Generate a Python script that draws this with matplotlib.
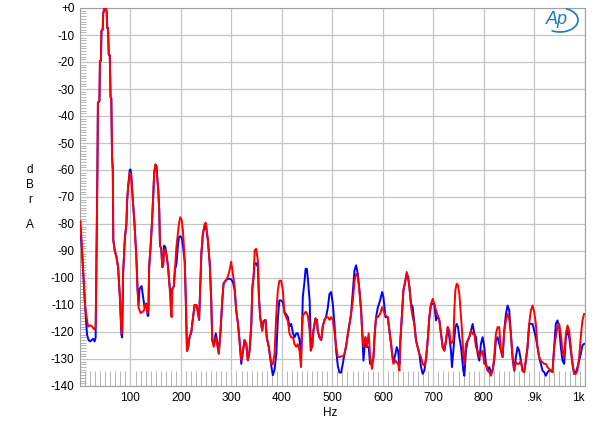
import matplotlib
matplotlib.use("Agg")
import matplotlib.pyplot as plt
from matplotlib.patches import Arc
from matplotlib.ticker import MultipleLocator

plt.rcParams['font.family'] = ['Liberation Sans', 'DejaVu Sans']

# red trace (Hz, dBr)
red_hz = [1, 3, 6, 10, 13, 16, 20, 24, 28, 31,
          32.5, 34.5, 35.5, 38.5, 39.5, 41.5, 42.5, 45, 46, 48.5, 51.5, 53, 54, 55.5, 57, 59, 60.5, 62, 63.5, 65,
          66, 69, 72, 75.5, 79, 82, 83.5, 85.5, 89, 92, 93.5, 95.5, 98.5, 101, 103, 105, 108, 111.5, 114, 116,
          120, 124, 127, 129.5, 132, 134, 135.5, 137, 140, 142.5, 145, 147, 149.5, 151.5, 153.5, 155, 157, 158.5,
          161, 163, 165, 166.5, 169, 171.5, 174.5, 177.5, 180, 181.5, 183, 186, 188, 191, 194, 196, 198.5, 201.5,
          204, 207.5, 209.5, 212, 214, 217, 220.5, 224, 227, 230.5, 234, 236, 238.5, 240.5, 243.5, 247, 249, 250.5,
          253.5, 257, 260, 262, 265, 269, 271.5, 275, 278.5, 282, 284.5, 288.5, 293, 296.5, 299.5, 303, 306.5,
          309.5, 313, 316, 319.5, 323, 326, 329.5, 332.5, 336, 339.5, 341.5, 344, 346, 349, 352.5, 354.5, 357,
          361, 363.5, 367.5, 370, 374, 379, 382, 385.5, 389, 392, 395, 398.5, 402, 405, 408.5, 412, 415, 418.5,
          422, 425, 428.5, 431.5, 435, 438, 440, 441.5, 445, 447, 449.5, 451.5, 455, 457, 460, 462.5, 466.5,
          469.5, 471, 474.5, 478, 481, 484.5, 487.5, 491, 494.5, 497.5, 501, 504, 507.5, 511, 514, 517.5, 520.5,
          524, 527.5, 530.5, 534, 537, 540.5, 544, 547, 550.5, 553.5, 557, 559, 561.5, 565.5, 568, 572, 575,
          578.5, 581.5, 584, 586.5, 590, 594.6, 598.6, 601.2, 605.2, 609.8, 613, 616.4, 618.4, 621, 625, 627.6,
          630.2, 632.9, 634.8, 638.1, 640.8, 644.7, 647.4, 650, 652.7, 656, 659.2, 662.5, 665.8, 669.1, 672.4,
          675.7, 679, 682.3, 685.6, 688.9, 692.2, 695.5, 698.8, 702, 705.4, 708.7, 712, 715.3, 718.6, 721.9,
          725.2, 728.5, 731.8, 735, 739.7, 741.7, 743.7, 746.3, 749, 751.6, 754.9, 756.9, 759.5, 761.5, 764.8,
          768, 771.4, 774.7, 778, 781.3, 784.5, 787.8, 791.1, 794.4, 797.7, 801, 804.3, 807.6, 810.9, 814.2,
          817.5, 820.8, 824, 827.4, 830.7, 834, 837.3, 840.6, 843.9, 847.2, 850.5, 853.7, 857, 860.3, 863.6,
          867, 870.2, 873.5, 876.8, 880, 883.4, 886.7, 890, 893.3, 896.6, 900, 903.2, 906.5, 909.8, 913, 916.4,
          919.7, 923, 926.3, 929.6, 932.9, 936.2, 939.5, 942.8, 946, 949.4, 952.7, 956, 959.3, 962.6, 965.9,
          969.2, 972.5, 975.8, 979, 982.4, 985.7, 989, 992.2, 995.5, 998.8]
red_db = [-79, -86, -97, -110, -114.5, -118, -117.5, -118, -119, -118,
          -95, -60, -35, -34.5, -19.6, -19.5, -8.5, -8, -2, 0, 0, -2, -7.5, -7.5, -17.3, -17.5, -33, -33.5, -55, -60,
          -86, -90, -92, -96, -107, -119.5, -120.5, -98, -85, -80, -71, -66, -61, -61.5, -66.5, -72, -80, -92, -104, -111,
          -113, -112.5, -112, -109.5, -110, -113, -112, -96, -88, -80, -70, -61, -58, -58.5, -64, -67, -75, -88,
          -89, -96, -95, -89.5, -89.5, -91.5, -96, -103, -112, -114.5, -104, -103, -97, -88.5, -83.5, -80, -77.5, -78.5,
          -82.5, -93.5, -107, -127, -126, -122, -120, -114.5, -110, -110, -113, -115.5, -102, -91, -83.5, -80, -79.5, -81,
          -86, -94.5, -108, -123, -125.5, -122, -124.5, -128, -119.5, -108, -102, -101, -99.5, -97, -94, -98.5, -103.5,
          -112, -117, -123, -130.5, -127, -123, -124.5, -130.5, -127, -117, -103.5, -99.5, -89.8, -89.2, -93.5, -107, -114.5,
          -119.5, -116, -115.5, -122, -125.5, -131.8, -132, -128, -113, -104.5, -101, -101, -104.5, -113, -114.5, -116, -120.5, -122,
          -122, -124.5, -125.5, -124.5, -127, -133, -120, -114, -113, -112.5, -113, -114, -119.5, -127, -125.5, -119.5, -115,
          -115.5, -119.5, -122, -123, -118, -115.5, -114.5, -114.5, -115.5, -114.5, -115.5, -119.5, -125.5, -129.3, -129.3, -129, -129,
          -128.3, -125, -121, -117, -113.5, -108.5, -101, -98.5, -99.5, -104.5, -112, -119.5, -125.5, -122, -125.5, -120.5, -129.3,
          -133.7, -129.5, -120.5, -114.5, -114.5, -113.3, -110.8, -112, -113.9, -114.5, -119.5, -124.4, -128.1, -131.8, -130.6, -131.2,
          -131.8, -134.3, -123.2, -113.3, -104.6, -100.9, -97.8, -99.7, -103.4, -110.8, -114.5, -117, -123.2, -125.6, -128.1,
          -129.3, -131.8, -132.5, -130, -123.2, -114.5, -109.6, -107.7, -109.6, -112, -113.9, -115.7, -120.7, -125.6, -126.9,
          -123.2, -118.2, -119.5, -124.4, -123.2, -112, -104.6, -102.1, -102.7, -105.9, -114.5, -119.5, -128.1, -131.8, -124.4,
          -123.2, -121.9, -119.5, -120.7, -120.7, -125.6, -126.9, -129.3, -128.1, -126.9, -131.8, -131.8, -134.3, -134.9, -136.2,
          -134.3, -129.3, -120.7, -118.2, -118.2, -126.9, -129.3, -119.5, -115.7, -113.3, -115.1, -120.7, -129.3, -134.3, -131.2,
          -131.8, -131.8, -130.6, -134.3, -134.9, -130.6, -125.6, -117, -112, -110.2, -112.7, -117, -125.6, -129.3, -130.6, -131.2,
          -131.8, -131.8, -133, -133.7, -134.3, -134.9, -125.6, -121.9, -118.2, -117, -120.7, -126.9, -129.3, -120.7, -117.6,
          -119.5, -125.6, -131.8, -135.5, -135.5, -134.3, -129.3, -121.9, -115.7, -113.3]

# blue trace (Hz, dBr)
blue_hz = [1, 3, 6, 10, 12, 14, 17, 20, 23, 26, 29, 31,
           32.5, 34.5, 35.5, 38.5, 39.5, 41.5, 42.5, 45, 46, 48.5, 51.5, 53, 54, 55.5, 57, 59, 60.5, 62, 63.5, 65,
           66, 69, 72, 75.5, 79, 82, 83.5, 85.5, 89, 92, 93.5, 95.5, 98.5, 100, 101.5, 103, 105, 108, 111.5, 114,
           116, 118, 122, 125, 128, 131.5, 134, 135.5, 137, 140, 142.5, 145, 147, 149.5, 151.5, 153.5, 155, 157,
           158.5, 161, 163, 165, 166.5, 169, 171.5, 174.5, 177.5, 180, 181.5, 183, 186, 188, 191, 194, 196, 198.5,
           201.5, 204, 207.5, 209.5, 212, 214, 217, 220.5, 224, 227, 230.5, 234, 236, 238.5, 240.5, 243.5, 247, 249,
           250.5, 253.5, 257, 260, 262, 265, 269, 271.5, 275, 278.5, 282, 284.5, 288.5, 293, 296.5, 299.5, 303,
           306.5, 309.5, 313, 316, 319.5, 323, 326, 329.5, 332.5, 336, 339.5, 341.5, 344, 346, 349, 352.5, 354.5,
           357, 361, 363.5, 367.5, 370, 374, 379, 382, 385.5, 389, 392, 395, 398.5, 402, 405, 408.5, 412, 415,
           418.5, 422, 425, 428.5, 431.5, 435, 438, 440, 441.5, 445, 447, 449.5, 451.5, 455, 457, 460, 462.5,
           466.5, 469.5, 471, 474.5, 478, 481, 484.5, 487.5, 491, 494.3, 497.6, 500.9, 504.2, 507.5, 510.8, 514,
           517.4, 520.7, 524, 527.5, 530.5, 534, 537, 540.5, 543.8, 547, 550.4, 553.7, 557, 559, 561.6, 565.5,
           568.2, 572, 574.8, 578.7, 581.4, 584, 586.6, 590, 594.6, 598.6, 601.2, 605.2, 609.8, 613, 616.4, 618.4,
           621, 625, 627.6, 630.2, 632.9, 634.8, 638.1, 640.8, 644.7, 647.4, 650, 652.7, 656, 659.2, 662.5, 665.8,
           669.1, 672.4, 675.7, 679, 682.3, 685.6, 688.9, 692.2, 695.5, 698.8, 702, 705.4, 708.7, 712, 715.3,
           718.6, 721.9, 725.2, 728.5, 731.8, 735, 737, 739.7, 741.7, 743.7, 746.3, 749, 751.6, 754.9, 756.9,
           759.5, 761.5, 764.8, 768, 771.4, 774.7, 778, 781.3, 784.5, 787.8, 791.1, 794.4, 797.7, 801, 804.3,
           807.6, 810.9, 814.2, 817.5, 820.8, 824, 827.4, 830.7, 834, 837.3, 840.6, 843.9, 847.2, 850.5, 853.7,
           857, 860.3, 863.6, 867, 870.2, 873.5, 876.8, 880, 883.4, 886.7, 890, 893.3, 896.6, 900, 903.2, 906.5,
           909.8, 913, 916.4, 919.7, 923, 926.3, 929.6, 932.9, 936.2, 939.5, 942.8, 946, 949.4, 952.7, 956, 959.3,
           962.6, 965.9, 969.2, 972.5, 975.8, 979, 982.4, 985.7, 989, 992.2, 995.5, 998.8]
blue_db = [-84, -87, -97, -110, -116, -121, -123, -123.5, -123, -122.5, -123.5, -122,
           -95, -60, -35, -34.5, -19.6, -19.5, -8.5, -8, -2, 0, 0, -2, -7.5, -7.5, -17.3, -17.5, -33, -33.5, -55, -60,
           -86, -90, -92, -96, -107, -121, -122, -98, -85, -80, -71, -66, -60, -59.8, -61.5, -66, -72, -80, -91.6, -104,
           -110, -104, -103, -107, -111, -109.5, -114, -114, -96, -88, -80, -70, -61, -58, -58.5, -64, -67, -75,
           -88, -89, -96, -95, -88, -88.5, -91.5, -96, -103, -106, -106, -104, -103, -97, -95, -88, -85, -84.5,
           -85, -88, -94, -107, -127, -126, -122, -120, -114.5, -110, -110, -113, -115.5, -102, -91, -83.5, -81, -81,
           -82, -86.5, -94.5, -108, -123, -124.5, -120.5, -123, -128, -119.5, -108, -102, -101, -100.3, -100.3, -100.5, -101.5,
           -104.6, -112, -117, -123, -131.8, -127, -123, -124.5, -130.5, -127, -117, -103.5, -99.5, -94.5, -94.5, -96, -107,
           -114.5, -119.5, -116, -115.5, -122, -125.5, -132.5, -136, -134, -128, -115, -108.3, -108.3, -109, -112.5, -113.5, -114.5, -118,
           -117, -120.5, -122, -120.5, -120.5, -123, -128, -118, -107, -101, -96.6, -96.6, -100.3, -108.3, -122, -125.6, -119.5,
           -115, -115.5, -119.5, -122, -123, -118, -115.5, -114.5, -111, -105.9, -105.2, -109.6, -117, -126.9, -132.5, -135,
           -135, -131.8, -128.1, -125, -121, -117, -113.5, -105, -97.2, -95.3, -98.4, -104.6, -112, -119.5, -130.6, -121.9,
           -125.6, -125.6, -131.8, -131.8, -129.3, -120.7, -114.5, -111, -108.3, -105.2, -107.1, -114.5, -114.5, -119.5, -124.4, -128.1,
           -131.2, -128.1, -125.6, -126.9, -132, -123.2, -113.3, -104.6, -100.9, -98.4, -99.7, -103.4, -109.6, -110.8, -117, -123.2,
           -125.6, -128.1, -133, -135.5, -134.3, -130, -123.2, -114.5, -109.6, -109.6, -109.6, -115.7, -113.9, -115.7, -120.7,
           -125.6, -126.9, -123.2, -118.2, -121.9, -126.9, -133, -126.9, -121.9, -118.2, -117, -118.2, -121.9, -125.6, -129.3,
           -134.3, -136.2, -126.9, -123.2, -121.9, -119.5, -117, -120.7, -121.9, -128.1, -130.6, -124.4, -121.9, -125.6, -131.8,
           -134.3, -133, -134.9, -134.3, -130.6, -123.2, -121.9, -124.4, -126.9, -129.3, -119.5, -113.3, -110.2, -112, -120.7,
           -129.3, -134.3, -129.3, -125.6, -126.9, -130.6, -134.3, -134.9, -130.6, -125.6, -117, -117, -117, -119.5, -121.9, -125.6,
           -129.3, -131.8, -134.3, -134.9, -136.2, -134.9, -134.3, -134.3, -134.9, -125.6, -117, -115.7, -118.2, -125.6, -130.6, -131.8,
           -121.9, -119.5, -121.9, -126.9, -131.8, -135.5, -134.9, -133, -130.6, -128.1, -125, -124.4]

x_ticks = [100, 200, 300, 400, 500, 600, 700, 800, 900, 1000]
x_labels = ['100', '200', '300', '400', '500', '600', '700', '800', '.9k', '1k']
y_ticks = list(range(-140, 1, 10))
y_labels = ['+0' if v == 0 else str(v) for v in y_ticks]

fig = plt.figure(figsize=(6, 4.3), dpi=100)
ax = fig.add_axes([80 / 600, 1 - 386 / 430, 504.7 / 600, 378 / 430])

ax.plot(blue_hz, blue_db, color='#0000ff', lw=1.4, zorder=3)
ax.plot(red_hz, red_db, color='#ff0000', lw=1.4, zorder=4)

ax.set_xlim(0, 1000)
ax.set_ylim(-140, 0)
ax.set_xticks(x_ticks)
ax.set_xticklabels(x_labels)
ax.set_yticks(y_ticks)
ax.set_yticklabels(y_labels)
ax.get_xticklabels()[-1].set_ha('right')
ax.xaxis.set_minor_locator(MultipleLocator(10))
ax.yaxis.set_minor_locator(MultipleLocator(1))
ax.tick_params(which='major', length=0, labelsize=8.5, pad=4)
ax.tick_params(which='minor', direction='in', color='#a8a8a8', width=0.6)
ax.tick_params(axis='x', which='minor', length=11)
ax.tick_params(axis='y', which='minor', length=4)
ax.grid(True, which='major', color='#c4c4c4', lw=0.9)
for s in ax.spines.values():
    s.set_color('#a0a0a0')
    s.set_linewidth(0.8)

# stacked y label and x label
for ch, yp in zip(['d', 'B', 'r', 'A'], [170, 185, 200, 225]):
    fig.text(30 / 600, 1 - yp / 430, ch, ha='center', va='center', fontsize=8.5)
fig.text(330 / 600, 1 - 413 / 430, 'Hz', ha='center', va='center', fontsize=8.5)

# Ap logo
fig.text(557 / 600, 1 - 20 / 430, 'Ap', ha='center', va='center', fontsize=13,
         style='italic', color='#1e78c0')
fig.add_artist(Arc((560 / 600, 1 - 20 / 430), 36 / 600, 24 / 430, theta1=-120, theta2=70,
                   transform=fig.transFigure, color='#1e78c0', lw=1.2))

fig.savefig('out.png', dpi=100)
